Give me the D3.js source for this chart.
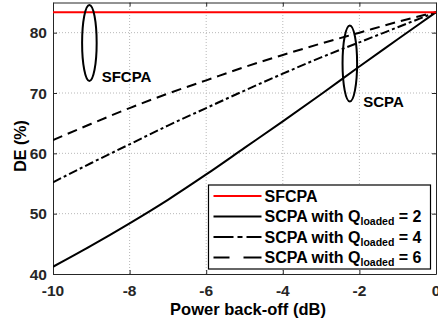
<!DOCTYPE html>
<html>
<head>
<meta charset="utf-8">
<script src="https://cdn.jsdelivr.net/npm/d3@7"></script>
<style>
  body { margin: 0; background: #fff; }
  svg { display: block; font-family: "Liberation Sans", Arial, sans-serif; font-weight: bold; }
  .grid line { stroke: #b8b8b8; stroke-width: 1; stroke-dasharray: 1,2; }
  .tick-label { fill: #262626; font-size: 15.5px; }
</style>
</head>
<body>
<svg width="438" height="326"></svg>
<script>
// data
var backoff = [-10, -9, -8, -7, -6, -5, -4, -3, -2, -1, 0];
var sfcpa   = [83.4, 83.4, 83.4, 83.4, 83.4, 83.4, 83.4, 83.4, 83.4, 83.4, 83.4];
var scpaQ2  = [41.2, 44.7, 48.4, 52.3, 56.5, 60.9, 65.3, 69.8, 74.4, 78.9, 83.4];
var scpaQ4  = [55.2, 58.4, 61.5, 64.6, 67.5, 70.4, 73.2, 75.9, 78.4, 80.9, 83.4];
var scpaQ6  = [62.2, 64.9, 67.5, 69.9, 72.1, 74.3, 76.3, 78.2, 80.0, 81.8, 83.4];

var xTicks = [-10, -8, -6, -4, -2, 0];
var yTicks = [40, 50, 60, 70, 80];

// annotation ellipses (data units) and their labels
var ellipseCx = [-9.05, -2.25];
var ellipseCy = [78.3, 74.9];
var ellipseRx = 0.19;
var ellipseRy = 6.3;
var noteText = ["SFCPA", "SCPA"];
var noteX = [-8.73, -1.90];
var noteY = [71.9, 67.6];

var svg = d3.select("svg");

var margin = {left: 53, right: 2, top: 2.5, bottom: 52};
var w = 438, h = 326;

var x = d3.scaleLinear().domain([-10, 0]).range([margin.left, w - margin.right]);
var y = d3.scaleLinear().domain([40, 85]).range([h - margin.bottom, margin.top]);

var x0 = x.range()[0], x1 = x.range()[1];
var y0 = y.range()[0], y1 = y.range()[1];

// grid
var grid = svg.append("g").attr("class", "grid");
grid.selectAll(".gx").data(xTicks.slice(1, -1)).enter().append("line")
  .attr("x1", function(d) { return x(d); }).attr("x2", function(d) { return x(d); })
  .attr("y1", y0).attr("y2", y1);
grid.selectAll(".gy").data(yTicks.slice(1)).enter().append("line")
  .attr("y1", function(d) { return y(d); }).attr("y2", function(d) { return y(d); })
  .attr("x1", x0).attr("x2", x1);

// box with inward ticks (matlab style)
var axisColor = "#262626";
function styleAxis(g) { g.selectAll("path,line").attr("stroke", axisColor); }
svg.append("g").attr("transform", "translate(0," + y0 + ")")
  .call(d3.axisBottom(x).tickValues(xTicks).tickSizeInner(-4).tickSizeOuter(0).tickFormat(""))
  .call(styleAxis);
svg.append("g").attr("transform", "translate(0," + y1 + ")")
  .call(d3.axisTop(x).tickValues(xTicks).tickSizeInner(-4).tickSizeOuter(0).tickFormat(""))
  .call(styleAxis);
svg.append("g").attr("transform", "translate(" + x0 + ",0)")
  .call(d3.axisLeft(y).tickValues(yTicks).tickSizeInner(-4).tickSizeOuter(0).tickFormat(""))
  .call(styleAxis);
svg.append("g").attr("transform", "translate(" + x1 + ",0)")
  .call(d3.axisRight(y).tickValues(yTicks).tickSizeInner(-4).tickSizeOuter(0).tickFormat(""))
  .call(styleAxis);

// tick labels
svg.selectAll(".xl").data(xTicks).enter().append("text")
  .attr("class", "tick-label")
  .attr("x", function(d) { return x(d); })
  .attr("y", y0 + 22)
  .attr("text-anchor", "middle")
  .text(function(d) { return d; });
svg.selectAll(".yl").data(yTicks).enter().append("text")
  .attr("class", "tick-label")
  .attr("x", x0 - 6)
  .attr("y", function(d) { return y(d) + 5.5; })
  .attr("text-anchor", "end")
  .text(function(d) { return d; });

// axis titles
svg.append("text")
  .attr("x", 248).attr("y", 314.5)
  .attr("text-anchor", "middle")
  .style("font-size", "16.5px")
  .text("Power back-off (dB)");
svg.append("text")
  .attr("transform", "translate(25.5,146) rotate(-90)")
  .attr("text-anchor", "middle")
  .style("font-size", "16px")
  .text("DE (%)");

// curves
var series = [
  {vals: scpaQ6, color: "#000", dash: "10,6"},
  {vals: scpaQ4, color: "#000", dash: "9,3,3,3"},
  {vals: scpaQ2, color: "#000", dash: null},
  {vals: sfcpa, color: "#ff0000", dash: null}
];

svg.append("clipPath").attr("id", "plotclip").append("rect")
  .attr("x", x0).attr("y", y1).attr("width", x1 - x0).attr("height", y0 - y1);

var line = d3.line()
  .x(function(d, i) { return x(backoff[i]); })
  .y(function(d) { return y(d); })
  .curve(d3.curveMonotoneX);

svg.append("g").attr("clip-path", "url(#plotclip)")
  .selectAll("path").data(series).enter().append("path")
  .attr("d", function(s) { return line(s.vals); })
  .attr("fill", "none")
  .attr("stroke", function(s) { return s.color; })
  .attr("stroke-width", 2)
  .attr("stroke-dasharray", function(s) { return s.dash; });

// annotations
svg.selectAll(".ell").data(ellipseCx).enter().append("ellipse")
  .attr("cx", function(d) { return x(d); })
  .attr("cy", function(d, i) { return y(ellipseCy[i]); })
  .attr("rx", x(-10 + ellipseRx) - x(-10))
  .attr("ry", y(40) - y(40 + ellipseRy))
  .attr("fill", "none")
  .attr("stroke", "#000")
  .attr("stroke-width", 2);
svg.selectAll(".note").data(noteText).enter().append("text")
  .attr("x", function(d, i) { return x(noteX[i]); })
  .attr("y", function(d, i) { return y(noteY[i]); })
  .style("font-size", "15px")
  .text(function(d) { return d; });

// legend
var legend = svg.append("g").attr("transform", "translate(208.5,185)");
legend.append("rect")
  .attr("width", 222).attr("height", 84)
  .attr("fill", "#fff").attr("stroke", "#000").attr("stroke-width", 1.2);

var legendItems = [
  {label: "SFCPA", sub: null, tail: null, color: "#ff0000", dash: null},
  {label: "SCPA with Q", sub: "loaded", tail: " = 2", color: "#000", dash: null},
  {label: "SCPA with Q", sub: "loaded", tail: " = 4", color: "#000", dash: "20,4,5,4,20"},
  {label: "SCPA with Q", sub: "loaded", tail: " = 6", color: "#000", dash: "16,14,20"}
];
var rows = legend.selectAll(".row").data(legendItems).enter().append("g")
  .attr("transform", function(d, i) { return "translate(0," + (11 + i * 20.5) + ")"; });
rows.append("line")
  .attr("x1", 5).attr("x2", 53)
  .attr("stroke", function(d) { return d.color; })
  .attr("stroke-width", 2)
  .attr("stroke-dasharray", function(d) { return d.dash; });
var lt = rows.append("text")
  .attr("x", 56).attr("y", 5.5)
  .style("font-size", "16px");
lt.append("tspan").text(function(d) { return d.label; });
lt.filter(function(d) { return d.sub; }).append("tspan")
  .attr("dy", 3).style("font-size", "10.5px")
  .text(function(d) { return d.sub; });
lt.filter(function(d) { return d.tail; }).append("tspan")
  .attr("dy", -3)
  .text(function(d) { return d.tail; });
</script>
</body>
</html>
